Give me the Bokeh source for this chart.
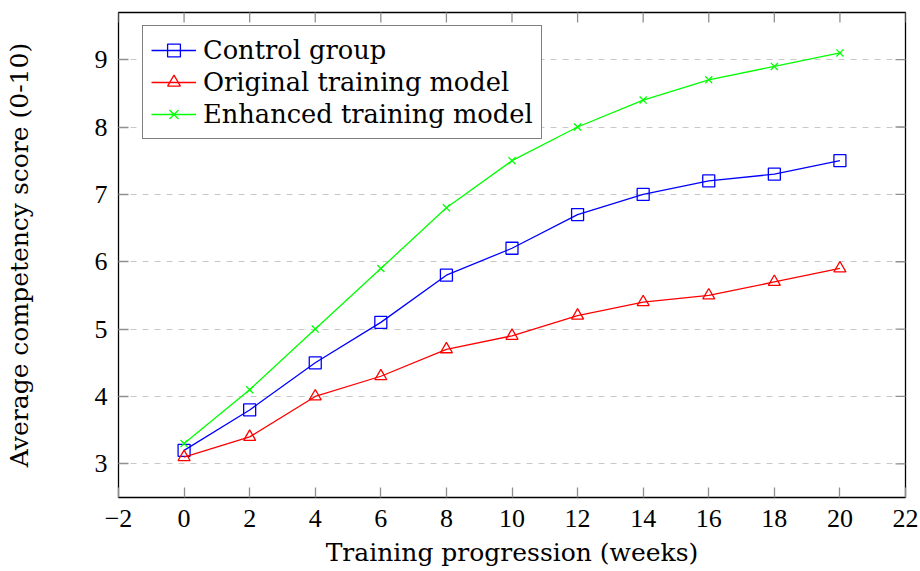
from bokeh.plotting import figure
from bokeh.models import Range1d, FixedTicker, Legend, LegendItem
from bokeh.embed import file_html
from bokeh.resources import INLINE

weeks = [0, 2, 4, 6, 8, 10, 12, 14, 16, 18, 20]
control = [3.2, 3.8, 4.5, 5.1, 5.8, 6.2, 6.7, 7.0, 7.2, 7.3, 7.5]
original = [3.1, 3.4, 4.0, 4.3, 4.7, 4.9, 5.2, 5.4, 5.5, 5.7, 5.9]
enhanced = [3.3, 4.1, 5.0, 5.9, 6.8, 7.5, 8.0, 8.4, 8.7, 8.9, 9.1]
x_ticks = [-2, 0, 2, 4, 6, 8, 10, 12, 14, 16, 18, 20, 22]
y_ticks = [3, 4, 5, 6, 7, 8, 9]
labels = ["Control group", "Original training model", "Enhanced training model"]
x_title = "Training progression (weeks)"
y_title = "Average competency score (0-10)"
x_lim = (-2, 22)
y_lim = (2.5, 9.7)

SERIF = "DejaVu Serif"
TICKF = "Liberation Serif"
TICKC = "#909090"

p = figure(width=920, height=571, output_backend="svg", toolbar_location=None,
           x_range=Range1d(*x_lim), y_range=Range1d(*y_lim),
           min_border_left=118, min_border_right=15, min_border_top=12, min_border_bottom=74)
p.background_fill_color = "white"
p.border_fill_color = "white"
p.outline_line_color = "black"
p.outline_line_width = 1.3

p.xgrid.visible = False
p.ygrid.ticker = FixedTicker(ticks=y_ticks)
p.ygrid.grid_line_color = "#c8c8c8"
p.ygrid.grid_line_dash = "6 6"
p.ygrid.grid_line_width = 1.2

def style_axis(ax, ticks):
    ax.ticker = FixedTicker(ticks=ticks)
    ax.axis_line_color = None
    ax.major_tick_in = 10
    ax.major_tick_out = 0
    ax.major_tick_line_color = TICKC
    ax.major_tick_line_width = 1.3
    ax.minor_tick_line_color = None
    ax.major_label_text_font = TICKF
    ax.major_label_text_color = "black"
    ax.major_label_text_font_size = "26px"
    ax.axis_label_text_font = SERIF
    ax.axis_label_text_font_size = "25px"
    ax.axis_label_text_font_style = "normal"
    ax.axis_label_text_color = "black"

xa = p.xaxis[0]
style_axis(xa, x_ticks)
xa.major_label_overrides = {t: (("\u2212" + str(-t)) if t < 0 else str(t)) for t in x_ticks}
xa.major_label_standoff = 12
xa.axis_label = x_title
xa.axis_label_standoff = 8

ya = p.yaxis[0]
style_axis(ya, y_ticks)
ya.major_label_standoff = 11
ya.axis_label = y_title
ya.axis_label_standoff = 58

# mirrored ticks on the top and right edges of the frame
p.scatter(x_ticks, [y_lim[1]] * len(x_ticks), marker="dash", angle=1.5708, size=20,
          line_color=TICKC, line_width=1.3)
p.scatter([x_lim[1]] * len(y_ticks), y_ticks, marker="dash", size=20,
          line_color=TICKC, line_width=1.3)

lw = 1.3
l1 = p.line(weeks, control, line_color="#0000ff", line_width=lw)
m1 = p.scatter(weeks, control, marker="square", size=12, line_color="#0000ff",
               fill_color=None, line_width=lw)
l2 = p.line(weeks, original, line_color="#ff0000", line_width=lw)
m2 = p.scatter(weeks, original, marker="triangle", size=12, line_color="#ff0000",
               fill_color=None, line_width=lw)
l3 = p.line(weeks, enhanced, line_color="#00ff00", line_width=lw)
m3 = p.scatter(weeks, enhanced, marker="x", size=10, line_color="#00ff00",
               line_width=lw)

legend = Legend(items=[LegendItem(label=labels[0], renderers=[l1, m1]),
                       LegendItem(label=labels[1], renderers=[l2, m2]),
                       LegendItem(label=labels[2], renderers=[l3, m3])],
                location=(24, 358))
legend.label_text_font = SERIF
legend.label_text_font_size = "25.7px"
legend.label_text_color = "black"
legend.glyph_width = 45
legend.glyph_height = 32
legend.spacing = 0
legend.padding = 8
legend.margin = 0
legend.label_standoff = 7
legend.label_height = 32
legend.border_line_color = "black"
legend.border_line_width = 1.3
legend.background_fill_alpha = 1
p.add_layout(legend, "center")

open("out.html", "w").write(file_html(p, INLINE))
